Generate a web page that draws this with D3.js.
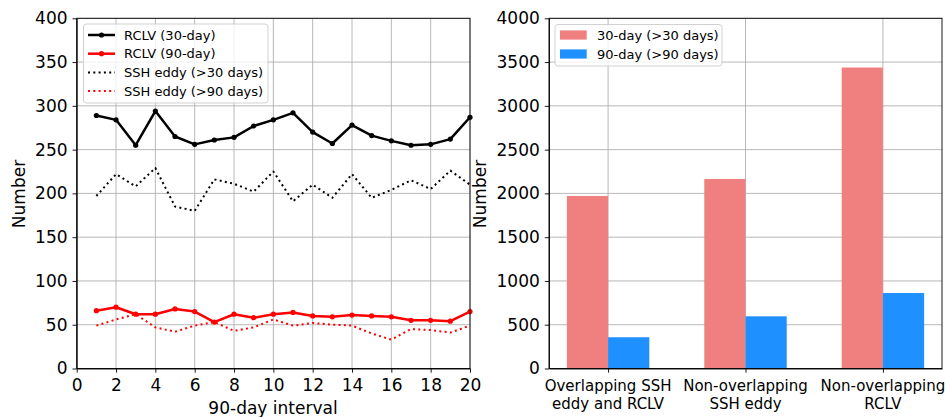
<!DOCTYPE html>
<html>
<head>
<meta charset="utf-8">
<script src="https://cdn.jsdelivr.net/npm/d3@7"></script>
<style>
  html, body { margin: 0; padding: 0; background: #fff; }
  svg { display: block; font-family: "DejaVu Sans", sans-serif; }
  .grid line { stroke: #b0b0b0; stroke-width: 0.9; }
  .axis path, .axis line { stroke: #000; stroke-width: 0.9; }
  .axis text { fill: #000; }
</style>
</head>
<body>
<svg id="chart" width="945" height="417"></svg>
<script>
// 90-day intervals and counts per interval
const intervals = [1,2,3,4,5,6,7,8,9,10,11,12,13,14,15,16,17,18,19,20];
const rclv30 = [289,284,255,294,265,256,261,264,277,284,292,270,257,278,266,260,255,256,262,287];
const rclv90 = [66,70,62,62,68,65,53,62,58,62,64,60,59,61,60,59,55,55,54,65];
const ssh30  = [197,222,208,229,185,180,216,211,202,225,191,210,195,222,195,204,215,205,226,210];
const ssh90  = [49,56,62,47,42,49,53,43,47,56,49,52,50,49,40,33,45,44,41,49];

const lineTicksX = [0,2,4,6,8,10,12,14,16,18,20];
const lineTicksY = [0,50,100,150,200,250,300,350,400];

// Totals by category
const categories = [["Overlapping SSH", "eddy and RCLV"], ["Non-overlapping", "SSH eddy"], ["Non-overlapping", "RCLV"]];
const total30 = [1971, 2165, 3438];
const total90 = [357, 596, 862];
const barTicksY = [0,500,1000,1500,2000,2500,3000,3500,4000];

const svg = d3.select("#chart");
const plotTop = 18.3, plotBottom = 368.5;
const tickFont = 17;
const tickLen = 4.2;

function styleAxis(g) {
  g.attr("class", "axis");
  g.selectAll("text").attr("font-size", tickFont).attr("font-family", "DejaVu Sans");
}

// ---------- Left panel: time series ----------
const xL = d3.scaleLinear().domain([0, 20]).range([76.7, 470]);
const yL = d3.scaleLinear().domain([0, 400]).range([plotBottom, plotTop]);

const gridL = svg.append("g").attr("class", "grid");
gridL.selectAll(".gx").data(lineTicksX).join("line")
  .attr("x1", d => xL(d)).attr("x2", d => xL(d)).attr("y1", plotTop).attr("y2", plotBottom);
gridL.selectAll(".gy").data(lineTicksY).join("line")
  .attr("x1", xL(0)).attr("x2", xL(20)).attr("y1", d => yL(d)).attr("y2", d => yL(d));

const seriesL = [
  { values: rclv30, color: "#000", dash: null, width: 2.5, marker: true, label: "RCLV (30-day)" },
  { values: rclv90, color: "#ff0000", dash: null, width: 2.5, marker: true, label: "RCLV (90-day)" },
  { values: ssh30, color: "#000", dash: "2,3.3", width: 2, marker: false, label: "SSH eddy (>30 days)" },
  { values: ssh90, color: "#ff0000", dash: "2,3.3", width: 2, marker: false, label: "SSH eddy (>90 days)" }
];

const line = d3.line().x((d, i) => xL(intervals[i])).y(d => yL(d));
seriesL.forEach(s => {
  svg.append("path").datum(s.values)
    .attr("d", line).attr("fill", "none")
    .attr("stroke", s.color).attr("stroke-width", s.width)
    .attr("stroke-dasharray", s.dash)
    .attr("stroke-linejoin", "round");
  if (s.marker) {
    svg.append("g").selectAll("circle").data(s.values).join("circle")
      .attr("cx", (d, i) => xL(intervals[i])).attr("cy", d => yL(d))
      .attr("r", 2.6).attr("fill", s.color);
  }
});

// frame
svg.append("rect").attr("x", xL(0)).attr("y", plotTop)
  .attr("width", xL(20) - xL(0)).attr("height", plotBottom - plotTop)
  .attr("fill", "none").attr("stroke", "#000").attr("stroke-width", 0.9);

svg.append("g").attr("transform", `translate(0,${plotBottom})`)
  .call(d3.axisBottom(xL).tickValues(lineTicksX).tickSize(tickLen).tickSizeOuter(0).tickPadding(6))
  .call(styleAxis);
svg.append("g").attr("transform", `translate(${xL(0)},0)`)
  .call(d3.axisLeft(yL).tickValues(lineTicksY).tickSize(tickLen).tickSizeOuter(0).tickPadding(5))
  .call(styleAxis);

svg.append("text").attr("x", 273).attr("y", 414).attr("text-anchor", "middle")
  .attr("font-size", 17).text("90-day interval");
svg.append("text").attr("transform", "translate(25,194) rotate(-90)")
  .attr("text-anchor", "middle").attr("font-size", 17).text("Number");

// legend (left)
const legL = svg.append("g");
legL.append("rect").attr("x", 83.5).attr("y", 24).attr("width", 184.5).attr("height", 79)
  .attr("rx", 3).attr("fill", "#fff").attr("fill-opacity", 0.8)
  .attr("stroke", "#cccccc").attr("stroke-width", 0.9);
seriesL.forEach((s, i) => {
  const yy = 35 + i * 18.7;
  legL.append("line").attr("x1", 88).attr("x2", 115).attr("y1", yy).attr("y2", yy)
    .attr("stroke", s.color).attr("stroke-width", s.width).attr("stroke-dasharray", s.dash);
  if (s.marker) legL.append("circle").attr("cx", 101.5).attr("cy", yy).attr("r", 2.6).attr("fill", s.color);
  legL.append("text").attr("x", 124).attr("y", yy + 4.6).attr("font-size", 13).text(s.label);
});

// ---------- Right panel: bar totals ----------
const xR = d3.scaleLinear().domain([-0.43, 2.43]).range([549, 942]);
const yR = d3.scaleLinear().domain([0, 4000]).range([plotBottom, plotTop]);
const catIdx = categories.map((c, i) => i);

const gridR = svg.append("g").attr("class", "grid");
gridR.selectAll(".gx").data(catIdx).join("line")
  .attr("x1", d => xR(d)).attr("x2", d => xR(d)).attr("y1", plotTop).attr("y2", plotBottom);
gridR.selectAll(".gy").data(barTicksY).join("line")
  .attr("x1", xR(-0.43)).attr("x2", xR(2.43)).attr("y1", d => yR(d)).attr("y2", d => yR(d));

const barW = 0.3;
svg.append("g").selectAll("rect").data(total30).join("rect")
  .attr("x", (d, i) => xR(i - barW)).attr("width", xR(barW) - xR(0))
  .attr("y", d => yR(d)).attr("height", d => yR(0) - yR(d))
  .attr("fill", "#f08080");
svg.append("g").selectAll("rect").data(total90).join("rect")
  .attr("x", (d, i) => xR(i)).attr("width", xR(barW) - xR(0))
  .attr("y", d => yR(d)).attr("height", d => yR(0) - yR(d))
  .attr("fill", "#1e90ff");

svg.append("rect").attr("x", xR(-0.43)).attr("y", plotTop)
  .attr("width", xR(2.43) - xR(-0.43)).attr("height", plotBottom - plotTop)
  .attr("fill", "none").attr("stroke", "#000").attr("stroke-width", 0.9);

svg.append("g").attr("transform", `translate(0,${plotBottom})`)
  .call(d3.axisBottom(xR).tickValues(catIdx).tickSize(tickLen).tickSizeOuter(0).tickFormat(""))
  .call(styleAxis);
catIdx.forEach(i => {
  const t = svg.append("text").attr("x", xR(i)).attr("y", 391)
    .attr("text-anchor", "middle").attr("font-size", 15);
  categories[i].forEach((ln, k) => {
    t.append("tspan").attr("x", xR(i)).attr("dy", k === 0 ? 0 : 17.5).text(ln);
  });
});
svg.append("g").attr("transform", `translate(${xR(-0.43)},0)`)
  .call(d3.axisLeft(yR).tickValues(barTicksY).tickFormat(d3.format("d"))
    .tickSize(tickLen).tickSizeOuter(0).tickPadding(5))
  .call(styleAxis);

svg.append("text").attr("transform", "translate(486,194) rotate(-90)")
  .attr("text-anchor", "middle").attr("font-size", 17).text("Number");

// legend (right)
const legR = svg.append("g");
legR.append("rect").attr("x", 555).attr("y", 24.5).attr("width", 167).attr("height", 41.5)
  .attr("rx", 3).attr("fill", "#fff").attr("fill-opacity", 0.8)
  .attr("stroke", "#cccccc").attr("stroke-width", 0.9);
[["30-day (>30 days)", "#f08080"], ["90-day (>90 days)", "#1e90ff"]].forEach(([lab, col], i) => {
  const yy = 35 + i * 19;
  legR.append("rect").attr("x", 560).attr("y", yy - 4.6).attr("width", 26.7).attr("height", 9.2).attr("fill", col);
  legR.append("text").attr("x", 597).attr("y", yy + 4.6).attr("font-size", 13).text(lab);
});
</script>
</body>
</html>
